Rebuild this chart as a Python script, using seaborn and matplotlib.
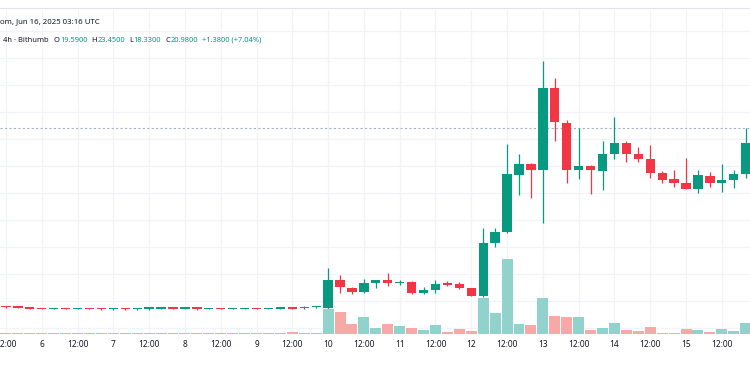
import matplotlib
matplotlib.use("Agg")
import matplotlib.pyplot as plt
from matplotlib.lines import Line2D
import seaborn as sns
import pandas as pd
import numpy as np

# ---------------- data (4h candles, Jun 5 12:00 -> Jun 15 20:00) ----------------
opens = [14.80, 14.79, 14.74, 14.73, 14.70, 14.73, 14.70, 14.73, 14.72, 14.69,
         14.72, 14.69, 14.71, 14.71, 14.74, 14.71, 14.76, 14.70, 14.73, 14.70,
         14.70, 14.73, 14.70, 14.71, 14.74, 14.73, 14.76,
         14.74, 15.78, 15.48, 15.33, 15.67, 15.78, 15.66, 15.70, 15.30, 15.41,
         15.67, 15.63, 15.48, 15.19, 17.15, 17.56, 19.67, 20.07, 19.85, 22.89,
         21.59, 19.85, 20.00, 19.81, 20.44, 20.85, 20.44, 20.26, 19.74, 19.52,
         19.37, 19.15, 19.63, 19.37, 19.48, 19.70]
highs = [14.81, 14.80, 14.75, 14.74, 14.74, 14.74, 14.74, 14.74, 14.73, 14.73,
         14.73, 14.74, 14.77, 14.75, 14.75, 14.75, 14.77, 14.74, 14.74, 14.73,
         14.74, 14.74, 14.74, 14.75, 14.75, 14.80, 14.80,
         16.22, 15.96, 15.52, 15.81, 15.79, 16.04, 15.78, 15.74, 15.52, 15.78,
         15.74, 15.70, 15.50, 17.70, 17.70, 20.81, 20.44, 20.11, 23.89, 23.26,
         21.70, 21.41, 20.04, 20.93, 21.81, 20.93, 20.70, 20.78, 19.81, 19.85,
         20.30, 19.85, 19.78, 20.07, 19.85, 21.41]
lows = [14.75, 14.74, 14.70, 14.69, 14.69, 14.69, 14.69, 14.69, 14.68, 14.68,
        14.68, 14.68, 14.68, 14.70, 14.70, 14.70, 14.68, 14.69, 14.69, 14.69,
        14.69, 14.69, 14.69, 14.70, 14.70, 14.72, 14.75,
        14.70, 15.30, 15.26, 15.30, 15.48, 15.56, 15.59, 15.26, 15.26, 15.30,
        15.56, 15.46, 15.17, 15.15, 17.00, 17.52, 18.93, 18.81, 17.89, 20.93,
        19.37, 19.52, 18.96, 19.11, 20.26, 20.15, 20.15, 19.56, 19.37, 19.22,
        19.13, 19.00, 19.22, 19.04, 19.19, 19.56]
closes = [14.76, 14.75, 14.71, 14.70, 14.73, 14.70, 14.73, 14.70, 14.69, 14.72,
          14.69, 14.72, 14.73, 14.74, 14.71, 14.74, 14.69, 14.73, 14.70, 14.72,
          14.73, 14.70, 14.73, 14.74, 14.71, 14.79, 14.79,
          15.78, 15.52, 15.33, 15.67, 15.78, 15.67, 15.68, 15.30, 15.41, 15.63,
          15.59, 15.48, 15.19, 17.15, 17.56, 19.70, 20.07, 19.85, 22.89, 21.63,
          19.85, 20.00, 19.85, 20.44, 20.85, 20.44, 20.26, 19.74, 19.48, 19.37,
          19.15, 19.67, 19.37, 19.48, 19.70, 20.85]
volumes = [1.2, 1.0, 0.8, 0.8, 1.0, 0.8, 0.8, 0.8, 0.8, 1.0,
           0.8, 1.2, 1.0, 0.8, 0.8, 0.8, 1.2, 0.8, 0.8, 0.8,
           0.8, 1.0, 0.8, 0.8, 2.5, 1.0, 1.0,
           25, 22, 10, 17, 6, 10, 8, 6, 4, 9,
           2, 5, 3, 36, 21, 75, 10, 9, 36, 18,
           17, 17, 4, 6, 11, 4, 3, 7, 1.5, 1.5,
           5, 4, 2, 5, 3, 11]
tick_labels = ["12:00", "6", "12:00", "7", "12:00", "8", "12:00", "9", "12:00",
               "10", "12:00", "11", "12:00", "12", "12:00", "13", "12:00",
               "14", "12:00", "15", "12:00"]
header_title = "om, Jun 16, 2025 03:16 UTC"
header_source = "4h · Bithumb"
ohlc_keys = ["O", "H", "L", "C"]
ohlc_values = ["19.5900", "23.4500", "18.3300", "20.9800"]
change_text = "+1.3800 (+7.04%)"
price_line = 21.41

UP, DOWN = "#089981", "#F23645"
UP_V, DOWN_V = "#92D2CC", "#F7A9A7"
TXT = "#131722"

df = pd.DataFrame({"o": opens, "h": highs, "l": lows, "c": closes, "v": volumes})
df["idx"] = np.arange(len(df))
df["dir"] = np.where(df["c"] >= df["o"], "up", "down")

sns.set_theme(style="white")
plt.rcParams["font.family"] = ["Noto Sans", "DejaVu Sans"]

W, H = 750, 375
fig = plt.figure(figsize=(7.5, 3.75), dpi=100)
fig.patch.set_facecolor("white")
ax_bottom, ax_top = 334, 10
rect = [0, (H - ax_bottom) / H, 1, (ax_bottom - ax_top) / H]
ax = fig.add_axes(rect)
vax = fig.add_axes(rect, facecolor="none")

xlim = (-0.5, 62.36)

# ---- price pane ----
ax.set_facecolor("white")
for s in ax.spines.values():
    s.set_visible(False)
ax.set_xlim(*xlim)
ax.set_ylim(13.778, 25.778)
ax.set_yticks(np.arange(14, 26, 1))
ax.tick_params(axis="y", left=False, labelleft=False)
tick_pos = np.arange(0, 3 * len(tick_labels), 3)
ax.set_xticks(tick_pos)
ax.set_xticklabels(tick_labels)
ax.tick_params(axis="x", length=0, pad=4, labelsize=6, labelcolor=TXT)
ax.grid(True, color="#F0F3FA", lw=0.9)
ax.set_axisbelow(True)

ax.axhline(price_line, color="#A8B3BF", lw=0.8, ls=(0, (2, 2)), zorder=1)

colors = [UP if d == "up" else DOWN for d in df["dir"]]
ax.vlines(df["idx"], df["l"], df["h"], colors=colors, lw=0.9, zorder=2)
body_bottom = np.minimum(df["o"], df["c"])
body_h = np.maximum(np.abs(df["c"] - df["o"]), 0.05)
ax.bar(df["idx"], body_h, bottom=body_bottom, width=0.78, color=colors,
       linewidth=0, zorder=3)

# ---- volume overlay ----
sns.barplot(data=df, x="idx", y="v", hue="dir",
            palette={"up": UP_V, "down": DOWN_V}, dodge=False, width=0.92,
            saturation=1, legend=False, errorbar=None, linewidth=0, ax=vax)
vax.set_xlim(*xlim)
vax.set_ylim(0, ax_bottom - ax_top)
vax.set_axis_off()

# ---- header ----
fig.add_artist(Line2D([0, 1], [1 - 8 / H, 1 - 8 / H], color="#E0E3EB", lw=0.8))
fig.text(0 / W, 1 - 22 / H, header_title, fontsize=5.6,
         color=TXT, va="center", ha="left")

fs = 5.4
y2 = 1 - 40 / H
renderer = fig.canvas.get_renderer()


def put(x_px, s, color):
    t = fig.text(x_px / W, y2, s, fontsize=fs, color=color, va="center")
    bb = t.get_window_extent(renderer)
    return bb.x1


x = put(3, header_source, TXT) + 5
for k, v in zip(ohlc_keys, ohlc_values):
    x = put(x, k, TXT) + 0.5
    x = put(x, v, UP) + 4
put(x, change_text, UP)

fig.savefig("out.png", dpi=100, facecolor="white")
